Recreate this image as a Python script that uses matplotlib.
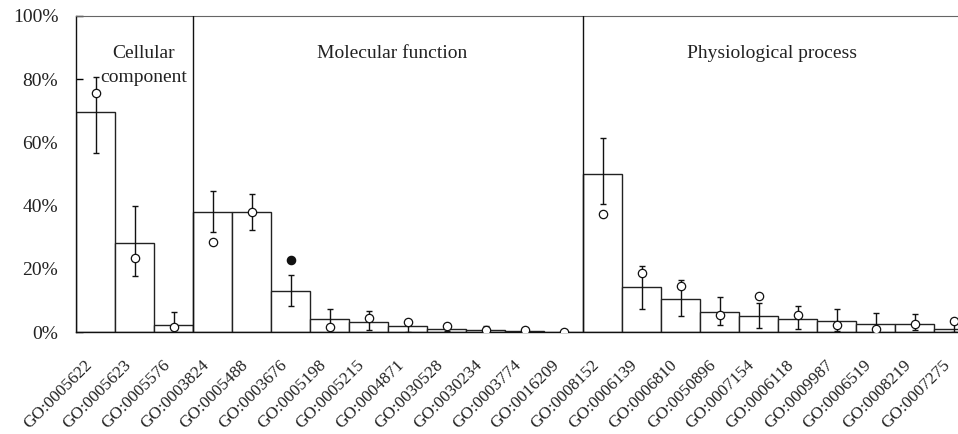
import numpy as np
import matplotlib.pyplot as plt
import matplotlib.transforms as mtransforms

plt.rcParams['font.family'] = ['Liberation Serif', 'DejaVu Serif']

labels = ["GO:0005622", "GO:0005623", "GO:0005576",
          "GO:0003824", "GO:0005488", "GO:0003676", "GO:0005198", "GO:0005215",
          "GO:0004871", "GO:0030528", "GO:0030234", "GO:0003774", "GO:0016209",
          "GO:0008152", "GO:0006139", "GO:0006810", "GO:0050896", "GO:0007154",
          "GO:0006118", "GO:0009987", "GO:0006519", "GO:0008219", "GO:0007275"]

# bar height (%), error bar top / bottom (%), circle value (%)
bar_vals = [69.6, 28.3, 2.3,
            38.0, 38.0, 13.2, 4.1, 3.4, 1.9, 0.9, 0.7, 0.3, 0.1,
            49.9, 14.2, 10.4, 6.4, 5.3, 4.3, 3.6, 2.7, 2.7, 0.9]
err_hi = [80.5, 40.0, 6.4,
          44.7, 43.6, 18.0, 7.4, 6.7, 3.0, 1.5, 2.1, 0.0, 0.0,
          61.5, 21.0, 16.4, 11.1, 9.2, 8.2, 7.3, 6.2, 5.8, 3.0]
err_lo = [56.5, 17.8, 0.0,
          31.6, 32.3, 8.3, 0.0, 0.7, 0.0, 0.3, 0.0, 0.0, 0.0,
          40.5, 7.3, 5.2, 2.3, 1.3, 0.9, 0.5, 0.0, 0.6, 0.0]
circle_vals = [75.5, 23.4, 1.8,
               28.4, 37.9, 22.7, 1.7, 4.6, 3.3, 2.0, 0.8, 0.7, 0.2,
               37.3, 18.8, 14.6, 5.5, 11.5, 5.4, 2.4, 1.0, 2.5, 3.5]
filled = ["GO:0003676"]

groups = ["Cellular\ncomponent", "Molecular function", "Physiological process"]
group_sizes = [3, 10, 10]

x = np.arange(len(labels))
bar_vals = np.array(bar_vals)
err_hi = np.array(err_hi)
err_lo = np.array(err_lo)
circle_vals = np.array(circle_vals)

fig = plt.figure(figsize=(9.58, 4.34), dpi=100)
ax = fig.add_axes([76.3/958, 1-332.3/434, 39*23/958, (332.3-15.7)/434])

ax.bar(x, bar_vals, width=1.0, color='white', edgecolor='#222222', linewidth=1.0, zorder=2)

m = err_hi > err_lo
mid = bar_vals[m]
ax.errorbar(x[m], mid, yerr=[mid - err_lo[m], err_hi[m] - mid], fmt='none',
            ecolor='#111111', elinewidth=1.0, capsize=2.5, capthick=1.0, zorder=3)

is_filled = np.array([l in filled for l in labels])
ax.plot(x[~is_filled], circle_vals[~is_filled], 'o', ms=6, mfc='white', mec='#111111', mew=0.9, zorder=4)
ax.plot(x[is_filled], circle_vals[is_filled], 'o', ms=6, mfc='#111111', mec='#111111', mew=0.9, zorder=4)

# group dividers and titles
edges = np.cumsum(group_sizes) - 0.5
for e in edges[:-1]:
    ax.axvline(e, color='#111111', linewidth=1.0, zorder=5)
ax.text(1.236, 84.3, groups[0], ha='center', va='center', fontsize=14, linespacing=1.6, color='#222222')
ax.text(7.595, 88.0, groups[1], ha='center', va='center', fontsize=14, color='#222222')
ax.text(17.33, 88.0, groups[2], ha='center', va='center', fontsize=14, color='#222222')

ax.set_xlim(-0.5, 22.5)
ax.set_ylim(0, 100)
ax.set_yticks([0, 20, 40, 60, 80, 100])
ax.set_yticklabels([f"{v}%" for v in [0, 20, 40, 60, 80, 100]], fontsize=14, color='#222222')
ax.tick_params(axis='y', direction='in', length=5, width=1.0, pad=13)
ax.set_xticks(x)
ax.set_xticklabels(labels, rotation=45, ha='right', va='top', rotation_mode='anchor',
                   fontsize=12.4, color='#222222')
ax.tick_params(axis='x', length=0, pad=18)
offset = mtransforms.ScaledTranslation(-12/100, 0, fig.dpi_scale_trans)
for lab in ax.get_xticklabels():
    lab.set_transform(lab.get_transform() + offset)

ax.spines['right'].set_visible(False)
ax.spines['top'].set_color('#666666')
for s in ['left', 'bottom']:
    ax.spines[s].set_color('#111111')
    ax.spines[s].set_linewidth(1.0)

fig.savefig('out.png', dpi=100)
